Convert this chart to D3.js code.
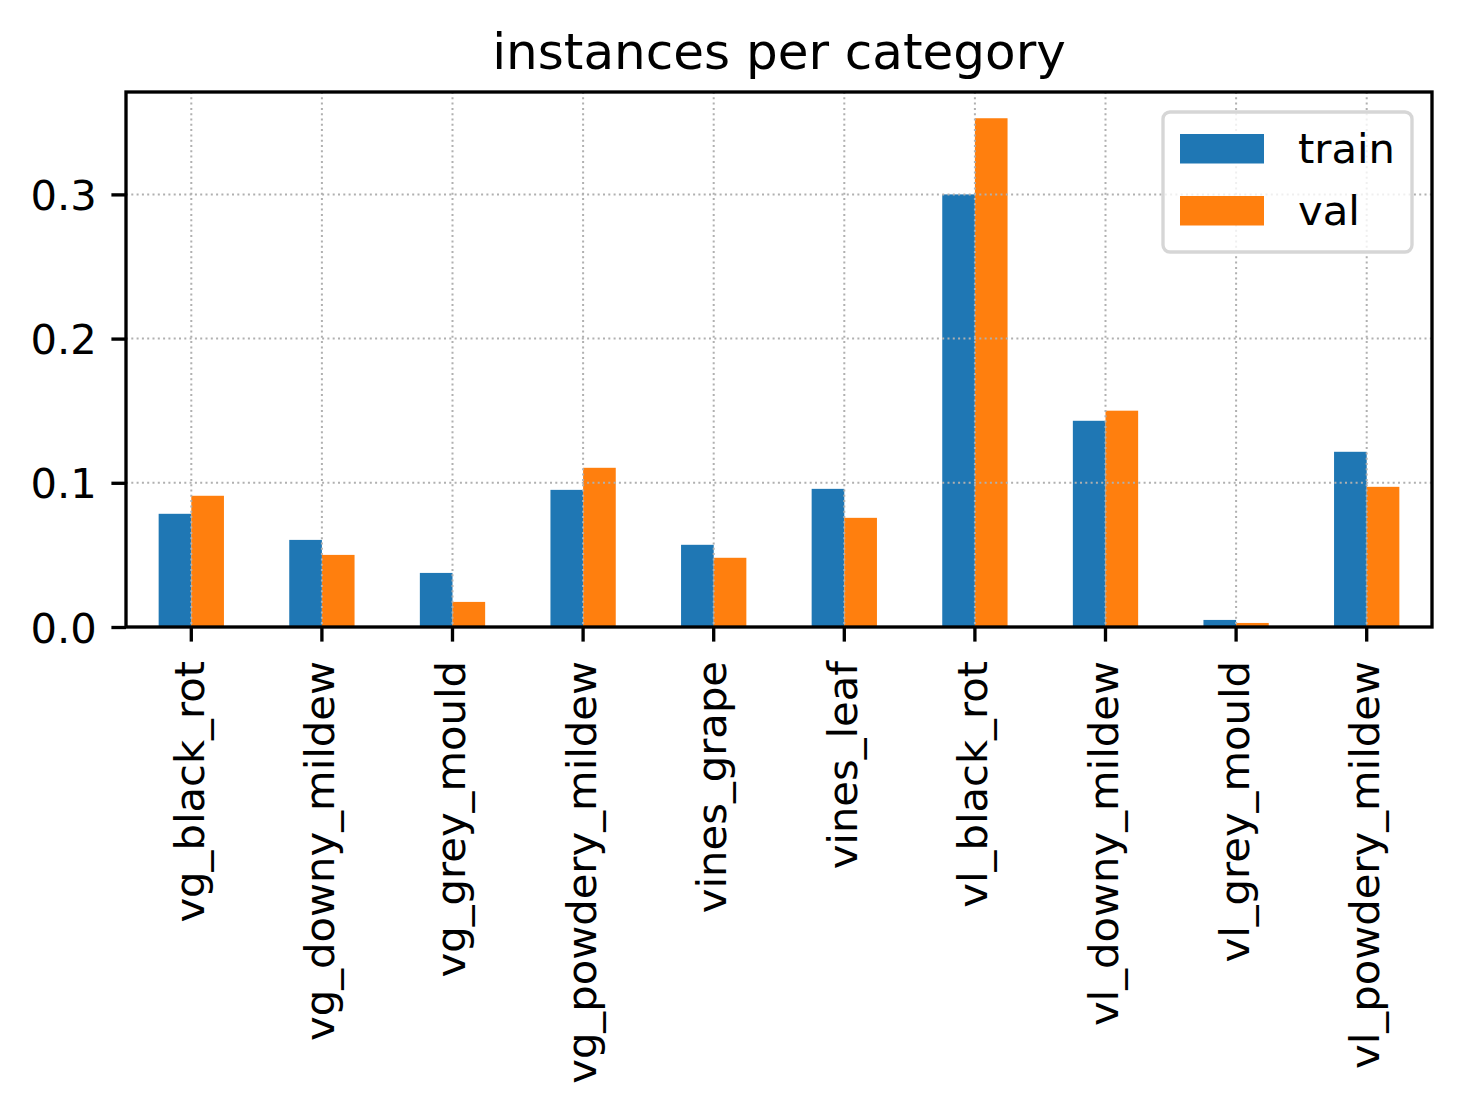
<!DOCTYPE html>
<html>
<head>
<meta charset="utf-8">
<script src="https://cdn.jsdelivr.net/npm/d3@7"></script>
<style>
  body { margin: 0; background: #fff; }
  text { font-family: "DejaVu Sans", sans-serif; fill: #000; }
</style>
</head>
<body>
<div id="chart"></div>
<script>
// chart data
var categories = ["vg_black_rot", "vg_downy_mildew", "vg_grey_mould", "vg_powdery_mildew",
    "vines_grape", "vines_leaf", "vl_black_rot", "vl_downy_mildew", "vl_grey_mould", "vl_powdery_mildew"];
var seriesNames = ["train", "val"];
var trainValues = [0.0785, 0.0604, 0.0375, 0.0951, 0.0570, 0.0958, 0.3000, 0.1430, 0.0049, 0.1215];
var valValues = [0.0910, 0.0500, 0.0174, 0.1104, 0.0480, 0.0757, 0.3528, 0.1500, 0.0028, 0.0972];
var yTicks = [0.0, 0.1, 0.2, 0.3];
var colors = ["#1f77b4", "#ff7f0e"];

var svgWidth = 1461;
var svgHeight = 1108;

var margin = { top: 92, right: 29, left: 126, bottom: 481 };
var chartWidth = svgWidth - margin.left - margin.right;
var chartHeight = svgHeight - margin.top - margin.bottom;

var svg = d3.select("#chart")
    .append("svg")
    .attr("width", svgWidth)
    .attr("height", svgHeight);

var chartGroup = svg.append("g")
    .attr("transform", `translate(${margin.left},${margin.top})`);

var xScale = d3.scaleBand()
    .domain(categories)
    .range([0, chartWidth])
    .padding(0);

var xSub = d3.scaleBand()
    .domain(seriesNames)
    .range([xScale.bandwidth() * 0.25, xScale.bandwidth() * 0.75])
    .padding(0);

var yScale = d3.scaleLinear()
    .domain([0, 0.371])
    .range([chartHeight, 0]);

var rows = categories.map(function (c, i) {
    return { cat: c, values: [trainValues[i], valValues[i]] };
});

// bars
var groups = chartGroup.selectAll(".cat")
    .data(rows)
    .enter()
    .append("g")
    .attr("transform", d => `translate(${xScale(d.cat)},0)`);

groups.selectAll("rect")
    .data(d => d.values.map((v, j) => ({ name: seriesNames[j], v: v, j: j })))
    .enter()
    .append("rect")
    .attr("x", d => xSub(d.name))
    .attr("y", d => yScale(d.v))
    .attr("width", xSub.bandwidth())
    .attr("height", d => chartHeight - yScale(d.v))
    .attr("fill", d => colors[d.j]);

// dotted grid on top of bars
var gridStyle = function (sel) {
    sel.attr("stroke", "#b0b0b0")
        .attr("stroke-width", 2)
        .attr("stroke-dasharray", "2,3.3");
};

chartGroup.selectAll(".vgrid")
    .data(categories)
    .enter()
    .append("line")
    .attr("x1", d => xScale(d) + xScale.bandwidth() / 2)
    .attr("x2", d => xScale(d) + xScale.bandwidth() / 2)
    .attr("y1", 0)
    .attr("y2", chartHeight)
    .call(gridStyle);

chartGroup.selectAll(".hgrid")
    .data(yTicks)
    .enter()
    .append("line")
    .attr("x1", 0)
    .attr("x2", chartWidth)
    .attr("y1", d => yScale(d))
    .attr("y2", d => yScale(d))
    .call(gridStyle);

// axes
var bottomAxis = d3.axisBottom(xScale).tickSizeOuter(0).tickSize(14.6).tickPadding(0);
var leftAxis = d3.axisLeft(yScale).tickValues(yTicks).tickFormat(d3.format(".1f"))
    .tickSizeOuter(0).tickSize(14.6).tickPadding(14.6);

var xAxis = chartGroup.append("g")
    .attr("transform", `translate(0, ${chartHeight})`)
    .call(bottomAxis);

xAxis.select(".domain").remove();
xAxis.selectAll(".tick line").attr("stroke", "#000").attr("stroke-width", 3.33);
xAxis.selectAll(".tick text")
    .attr("font-size", "41.7px")
    .attr("font-family", "DejaVu Sans")
    .attr("text-anchor", "end")
    .attr("transform", "translate(0, 34) rotate(-90)")
    .attr("x", 0)
    .attr("y", 0)
    .attr("dy", "0.3em");

var yAxis = chartGroup.append("g")
    .call(leftAxis);

yAxis.select(".domain").remove();
yAxis.selectAll(".tick line").attr("stroke", "#000").attr("stroke-width", 3.33);
yAxis.selectAll(".tick text")
    .attr("font-size", "41.7px")
    .attr("font-family", "DejaVu Sans")
    .attr("dy", "0.36em");

// frame
chartGroup.append("rect")
    .attr("x", 0)
    .attr("y", 0)
    .attr("width", chartWidth)
    .attr("height", chartHeight)
    .attr("fill", "none")
    .attr("stroke", "#000")
    .attr("stroke-width", 3.33);

// title
svg.append("text")
    .attr("x", margin.left + chartWidth / 2)
    .attr("y", 69)
    .attr("text-anchor", "middle")
    .attr("font-size", "50px")
    .text("instances per category");

// legend
var legend = chartGroup.append("g")
    .attr("transform", `translate(${1163 - margin.left},${112 - margin.top})`);

legend.append("rect")
    .attr("x", 0)
    .attr("y", 0)
    .attr("width", 249)
    .attr("height", 140)
    .attr("rx", 7)
    .attr("fill", "#fff")
    .attr("fill-opacity", 0.8)
    .attr("stroke", "#d6d6d6")
    .attr("stroke-width", 3.33);

var legendItems = legend.selectAll(".item")
    .data(seriesNames)
    .enter()
    .append("g")
    .attr("transform", (d, i) => `translate(17, ${22 + i * 62})`);

legendItems.append("rect")
    .attr("width", 84)
    .attr("height", 29.5)
    .attr("fill", (d, i) => colors[i]);

legendItems.append("text")
    .attr("x", 118)
    .attr("y", 29)
    .attr("font-size", "41.7px")
    .text(d => d);
</script>
</body>
</html>
